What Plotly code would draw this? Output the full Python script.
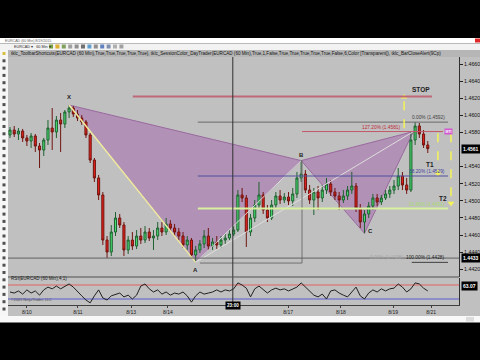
import plotly.graph_objects as go

W, H = 480, 360


def px(x):
    return x / W


def py(y):
    return 1 - y / H


# ---------------- data ----------------
bar_index = list(range(100))
open_ = [1.45770, 1.45828, 1.45781, 1.45816, 1.45735, 1.45699, 1.45758, 1.45641, 1.45594, 1.45711,
         1.45851, 1.45805, 1.45945, 1.45898, 1.46039, 1.46085, 1.46015, 1.45968, 1.45922, 1.45770,
         1.45477, 1.45267, 1.45068, 1.44541, 1.44401, 1.44635, 1.44799, 1.44717, 1.44425, 1.44541,
         1.44471, 1.44588, 1.44541, 1.44635, 1.44565, 1.44588, 1.44682, 1.44635, 1.44729, 1.44682,
         1.44635, 1.44588, 1.44483, 1.44541, 1.44366, 1.44425, 1.44495, 1.44588, 1.44471, 1.44518,
         1.44483, 1.44541, 1.44565, 1.44612, 1.44658, 1.45068, 1.45033, 1.44635, 1.44799, 1.44951,
         1.45068, 1.44892, 1.44799, 1.44951, 1.45056, 1.45009, 1.45044, 1.44998, 1.45080, 1.45267,
         1.45313, 1.45126, 1.45009, 1.45103, 1.45033, 1.45126, 1.45196, 1.45103, 1.45056, 1.45009,
         1.45056, 1.45126, 1.45173, 1.44916, 1.44752, 1.44846, 1.44939, 1.45033, 1.44986, 1.45033,
         1.45080, 1.45126, 1.45173, 1.45290, 1.45185, 1.45126, 1.45711, 1.45875, 1.45781, 1.45653]
high = [1.45863, 1.45875, 1.45851, 1.45840, 1.45770, 1.45793, 1.45781, 1.45676, 1.45735, 1.45945,
        1.46085, 1.45992, 1.46027, 1.46062, 1.46120, 1.46109, 1.46062, 1.46003, 1.45945, 1.45793,
        1.45501, 1.45302, 1.45103, 1.44588, 1.44717, 1.44869, 1.44846, 1.44752, 1.44588, 1.44635,
        1.44658, 1.44682, 1.44705, 1.44682, 1.44658, 1.44752, 1.44752, 1.44799, 1.44775, 1.44729,
        1.44682, 1.44635, 1.44588, 1.44565, 1.44471, 1.44541, 1.44658, 1.44682, 1.44565, 1.44588,
        1.44588, 1.44612, 1.44658, 1.44705, 1.45126, 1.45150, 1.45068, 1.44846, 1.45009, 1.45220,
        1.45103, 1.44951, 1.45009, 1.45103, 1.45126, 1.45091, 1.45103, 1.45150, 1.45337, 1.45470,
        1.45360, 1.45185, 1.45150, 1.45173, 1.45185, 1.45267, 1.45243, 1.45150, 1.45103, 1.45126,
        1.45173, 1.45337, 1.45208, 1.44963, 1.44892, 1.44986, 1.45080, 1.45080, 1.45068, 1.45126,
        1.45173, 1.45243, 1.45384, 1.45337, 1.45267, 1.45805, 1.45920, 1.45910, 1.45828, 1.45699]
low = [1.45735, 1.45746, 1.45711, 1.45688, 1.45641, 1.45618, 1.45571, 1.45384, 1.45524, 1.45653,
       1.45594, 1.45735, 1.45571, 1.45851, 1.45968, 1.45980, 1.45933, 1.45887, 1.45735, 1.45442,
       1.45220, 1.45009, 1.44483, 1.44331, 1.44354, 1.44588, 1.44682, 1.44354, 1.44378, 1.44425,
       1.44436, 1.44495, 1.44506, 1.44530, 1.44425, 1.44541, 1.44588, 1.44600, 1.44635, 1.44588,
       1.44541, 1.44448, 1.44425, 1.44331, 1.44280, 1.44390, 1.44448, 1.44425, 1.44425, 1.44436,
       1.44448, 1.44495, 1.44541, 1.44588, 1.44635, 1.44986, 1.44460, 1.44588, 1.44752, 1.44916,
       1.44846, 1.44752, 1.44775, 1.44916, 1.44963, 1.44974, 1.44951, 1.44939, 1.45033, 1.45220,
       1.45091, 1.44963, 1.44834, 1.44892, 1.44986, 1.45080, 1.45056, 1.45009, 1.44892, 1.44974,
       1.45009, 1.45080, 1.44869, 1.44682, 1.44620, 1.44799, 1.44892, 1.44939, 1.44951, 1.45009,
       1.45033, 1.45080, 1.45126, 1.45126, 1.45080, 1.45103, 1.45653, 1.45735, 1.45618, 1.45559]
close = [1.45828, 1.45781, 1.45816, 1.45735, 1.45699, 1.45758, 1.45641, 1.45594, 1.45711, 1.45851,
         1.45805, 1.45945, 1.45898, 1.46039, 1.46085, 1.46015, 1.45968, 1.45922, 1.45770, 1.45477,
         1.45267, 1.45068, 1.44541, 1.44401, 1.44635, 1.44799, 1.44717, 1.44425, 1.44541, 1.44471,
         1.44588, 1.44541, 1.44635, 1.44565, 1.44588, 1.44682, 1.44635, 1.44729, 1.44682, 1.44635,
         1.44588, 1.44483, 1.44541, 1.44366, 1.44425, 1.44495, 1.44588, 1.44471, 1.44518, 1.44483,
         1.44541, 1.44565, 1.44612, 1.44658, 1.45068, 1.45033, 1.44635, 1.44799, 1.44951, 1.45068,
         1.44892, 1.44799, 1.44951, 1.45056, 1.45009, 1.45044, 1.44998, 1.45080, 1.45267, 1.45313,
         1.45126, 1.45009, 1.45103, 1.45033, 1.45126, 1.45196, 1.45103, 1.45056, 1.45009, 1.45056,
         1.45126, 1.45173, 1.44916, 1.44752, 1.44846, 1.44939, 1.45033, 1.44986, 1.45033, 1.45080,
         1.45126, 1.45173, 1.45290, 1.45185, 1.45126, 1.45711, 1.45875, 1.45781, 1.45653, 1.45610]
rsi = [50, 47, 53, 44, 56, 47, 53, 41, 56, 64,
       59, 67, 59, 67, 73, 64, 50, 39, 27, 19,
       39, 56, 33, 27, 39, 44, 47, 36, 41, 30,
       41, 67, 73, 59, 50, 56, 44, 50, 41, 47,
       44, 50, 39, 21, 39, 50, 44, 47, 50, 56,
       50, 56, 53, 59, 76, 70, 61, 36, 59, 67,
       56, 47, 56, 61, 56, 59, 53, 59, 64, 76,
       64, 53, 41, 36, 44, 30, 53, 56, 47, 41,
       36, 50, 64, 39, 30, 47, 56, 50, 59, 53,
       59, 61, 73, 64, 50, 59, 76, 73, 61, 53]

# 1.4560 sits under the last-price box in the reference, so it is not labelled
price_ticks = [1.4420, 1.4440, 1.4460, 1.4480, 1.4500, 1.4520, 1.4540,
               1.4580, 1.4600, 1.4620, 1.4640, 1.4660]
price_labels = ["1.4420", "1.4440", "1.4460", "1.4480", "1.4500", "1.4520", "1.4540",
                "1.4580", "1.4600", "1.4620", "1.4640", "1.4660"]
date_ticks = [4.0, 16.1, 28.7, 37.4, 65.9, 78.4, 90.8, 99.8]
date_labels = ["8/10", "8/11", "8/13", "8/14", "8/17", "8/18", "8/19", "8/21"]

# harmonic pattern points X, A, B, C, D
pat_bar = [14, 44, 69, 84, 95.6]
pat_price = [1.4612, 1.4428, 1.4547, 1.4462, 1.4581]
pat_names = ["X", "A", "B", "C"]

# fibonacci levels
fib_names = ["0.00% (1.4592)", "38.20% (1.4529)", "61.80% (1.4491)", "100.00% (1.4428)"]
fib_prices = [1.4592, 1.4529, 1.4491, 1.4428]
ext_name = "127.20% (1.4581)"
ext_price = 1.4581
stop_price = 1.4622
t1_price = 1.4532
t2_price = 1.4497
arrow_start = 1.4579
up_arrow_from = 1.4585

cross_bar = 52.8
cross_price = 1.4433
last_price_text = "1.4561"
last_price = 1.4561
rsi_text = "63.07"
rsi_hi, rsi_lo = 70, 30

FONT = "Liberation Sans, Arial, sans-serif"

fig = go.Figure()

fig.add_trace(go.Candlestick(
    x=bar_index, open=open_, high=high, low=low, close=close,
    increasing=dict(line=dict(color="#1f6030", width=1), fillcolor="#46dc6e"),
    decreasing=dict(line=dict(color="#701510", width=1), fillcolor="#e4201a"),
    whiskerwidth=0, showlegend=False, hoverinfo="skip", xaxis="x", yaxis="y"))

fig.add_trace(go.Scatter(
    x=bar_index, y=rsi, mode="lines", line=dict(color="#202020", width=1),
    showlegend=False, hoverinfo="skip", xaxis="x", yaxis="y2"))

# arrow heads (yellow)
fig.add_trace(go.Scatter(
    x=[93.4, 101.4, 104.5], y=[stop_price - 0.00005, t1_price, t2_price],
    mode="markers",
    marker=dict(symbol=["triangle-up", "triangle-down", "triangle-down"], size=6,
                color="#f4f45a", line=dict(width=0)),
    showlegend=False, hoverinfo="skip", xaxis="x", yaxis="y"))

shapes = []
# chart grey background
shapes.append(dict(type="rect", xref="paper", yref="paper", x0=px(8), x1=1, y0=py(316), y1=py(50),
                   fillcolor="#c0c0c0", line=dict(width=0), layer="below"))
shapes.append(dict(type="rect", xref="paper", yref="paper", x0=px(8), x1=1, y0=py(57), y1=py(50),
                   fillcolor="#b6b6b6", line=dict(width=0), layer="below"))
# window chrome
shapes.append(dict(type="rect", xref="paper", yref="paper", x0=0, x1=1, y0=py(43.5), y1=py(38),
                   fillcolor="#ffffff", line=dict(width=0), layer="below"))
shapes.append(dict(type="rect", xref="paper", yref="paper", x0=0, x1=1, y0=py(50), y1=py(43.5),
                   fillcolor="#f2f2f2", line=dict(width=0), layer="below"))
shapes.append(dict(type="rect", xref="paper", yref="paper", x0=0, x1=px(8), y0=py(316), y1=py(50),
                   fillcolor="#f6f6f6", line=dict(width=0), layer="below"))
shapes.append(dict(type="rect", xref="paper", yref="paper", x0=0, x1=1, y0=py(322.5), y1=py(316),
                   fillcolor="#f8f8f8", line=dict(width=0), layer="below"))
shapes.append(dict(type="rect", xref="paper", yref="paper", x0=px(475), x1=1, y0=py(42.5), y1=py(38.5),
                   fillcolor="#e02828", line=dict(width=0), layer="below"))
shapes.append(dict(type="rect", xref="paper", yref="paper", x0=px(466), x1=px(474), y0=py(321.5), y1=py(317),
                   fillcolor="#dcdcdc", line=dict(width=0), layer="below"))
# left toolbar icons
for k in range(36):
    yy = 52 + k * 7.3
    col = "#d8c040" if k == 0 else "#505050"
    shapes.append(dict(type="rect", xref="paper", yref="paper", x0=px(2.5), x1=px(5.5),
                       y0=py(yy + 3), y1=py(yy), fillcolor=col, line=dict(width=0), layer="below"))
# top toolbar icons
tb_cols = ["#7aa040", "#e0b030", "#80a060", "#a0a0a0", "#909090", "#707070", "#60a0d0",
           "#909090", "#6080c0", "#8090b0", "#b0b0b0", "#a0a0a0"]
for k, c in enumerate(tb_cols):
    xx = 49 + k * 6.4
    shapes.append(dict(type="rect", xref="paper", yref="paper", x0=px(xx), x1=px(xx + 4),
                       y0=py(48.5), y1=py(44.5), fillcolor=c, line=dict(width=0), layer="below"))


# harmonic pattern triangles
def tri(i0, i1, i2):
    return "M {},{} L {},{} L {},{} Z".format(pat_bar[i0], pat_price[i0], pat_bar[i1], pat_price[i1],
                                              pat_bar[i2], pat_price[i2])


shapes.append(dict(type="path", xref="x", yref="y", path=tri(0, 1, 2),
                   fillcolor="rgba(155,75,165,0.40)", line=dict(color="#9a6aa0", width=1), layer="below"))
shapes.append(dict(type="path", xref="x", yref="y", path=tri(2, 3, 4),
                   fillcolor="rgba(155,75,165,0.40)", line=dict(color="#9a6aa0", width=1), layer="below"))
# XA leg (pale yellow)
shapes.append(dict(type="line", xref="x", yref="y", x0=pat_bar[0], y0=pat_price[0], x1=pat_bar[1],
                   y1=pat_price[1], line=dict(color="#f0eca0", width=1.5), layer="above"))
# A-B and A-D thin light lines
shapes.append(dict(type="line", xref="x", yref="y", x0=pat_bar[1], y0=pat_price[1], x1=pat_bar[2],
                   y1=pat_price[2], line=dict(color="#dedede", width=1), layer="above"))
shapes.append(dict(type="line", xref="x", yref="y", x0=pat_bar[1], y0=pat_price[1], x1=pat_bar[4],
                   y1=pat_price[4], line=dict(color="#dedede", width=1), layer="above"))
# box from A to B
shapes.append(dict(type="line", xref="x", yref="y", x0=69.2, y0=pat_price[2], x1=69.2, y1=1.44272,
                   line=dict(color="#707070", width=1), layer="above"))
shapes.append(dict(type="line", xref="x", yref="y", x0=45, y0=1.44272, x1=69.2, y1=1.44272,
                   line=dict(color="#707070", width=1), layer="above"))

# STOP line
shapes.append(dict(type="line", xref="x", yref="y", x0=29.1, x1=100, y0=stop_price, y1=stop_price,
                   line=dict(color="#c06878", width=2), layer="above"))
# fib lines
fib_cols = ["#6a6a6a", "#5050a0", "#d8f0a0", "#404040"]
fib_x0 = [44.5, 44.5, 44.5, 95.2]
fib_w = [1, 1, 2, 1]
for p, c, x0, w in zip(fib_prices, fib_cols, fib_x0, fib_w):
    shapes.append(dict(type="line", xref="x", yref="y", x0=x0, x1=103.8, y0=p, y1=p,
                       line=dict(color=c, width=w), layer="above"))
shapes.append(dict(type="line", xref="x", yref="y", x0=69.2, x1=102.6, y0=ext_price, y1=ext_price,
                   line=dict(color="#c05868", width=1), layer="above"))
# yellow dashed arrows
for xb, y0, y1 in [(93.4, up_arrow_from, stop_price - 0.0001), (101.4, arrow_start, t1_price + 0.0001),
                   (104.5, arrow_start, t2_price + 0.0001)]:
    shapes.append(dict(type="line", xref="x", yref="y", x0=xb, x1=xb, y0=y0, y1=y1,
                       line=dict(color="#f4f45a", width=1.5, dash="dash"), layer="above"))
# crosshair
shapes.append(dict(type="line", xref="x domain", yref="y", x0=0, x1=1, y0=cross_price, y1=cross_price,
                   line=dict(color="#606060", width=1), layer="above"))
shapes.append(dict(type="line", xref="x", yref="paper", x0=cross_bar, x1=cross_bar, y0=py(305), y1=py(57),
                   line=dict(color="#303030", width=1), layer="above"))
# panel separator
shapes.append(dict(type="line", xref="paper", yref="paper", x0=px(8), x1=px(459), y0=py(277), y1=py(277),
                   line=dict(color="#505050", width=1), layer="above"))
# RSI level lines
shapes.append(dict(type="line", xref="x domain", yref="y2", x0=0, x1=1, y0=rsi_hi, y1=rsi_hi,
                   line=dict(color="#e06060", width=1), layer="below"))
shapes.append(dict(type="line", xref="x domain", yref="y2", x0=0, x1=1, y0=rsi_lo, y1=rsi_lo,
                   line=dict(color="#5a5ad0", width=1), layer="below"))

ann = []
ann.append(dict(xref="paper", yref="paper", x=px(9), y=py(53.5), xanchor="left", yanchor="middle",
                text="tklc_ToolbarShortcuts(EURCAD (60 Min),True,True,True,True,True), "
                     "tklc_SessionColor_DayTrader(EURCAD (60 Min),True,1,False,True,True,True,True,True,"
                     "False,6,Color [Transparent]), tklc_BarCloseAlert(9Cp)",
                showarrow=False, font=dict(family=FONT, size=4.6, color="#151515")))
ann.append(dict(xref="paper", yref="paper", x=px(3), y=py(40.7), xanchor="left", yanchor="middle",
                text="EURCAD (60 Min) 8/19/2015", showarrow=False,
                font=dict(family=FONT, size=3.6, color="#606060")))
ann.append(dict(xref="paper", yref="paper", x=px(12), y=py(46.7), xanchor="left", yanchor="middle",
                text="EURCAD ▾   60 Min ▾", showarrow=False,
                font=dict(family=FONT, size=3.8, color="#303030")))
# pattern letters
letter_shift = [(0, 8), (0, -8), (0, 6), (6, 2)]
for name, b, p, (dx, dy) in zip(pat_names, pat_bar, pat_price, letter_shift):
    ann.append(dict(xref="x", yref="y", x=b, y=p, xshift=dx, yshift=dy, text="<b>" + name + "</b>",
                    showarrow=False, font=dict(family=FONT, size=6, color="#202020")))
# level labels
ann.append(dict(xref="x", yref="y", x=100, y=stop_price, xanchor="right", yanchor="bottom", yshift=1,
                text="<b>STOP</b>", showarrow=False, font=dict(family=FONT, size=6.5, color="#202020")))
ann.append(dict(xref="x", yref="y", x=99.5, y=t1_price, yshift=9, text="<b>T1</b>", showarrow=False,
                font=dict(family=FONT, size=6.5, color="#202020")))
ann.append(dict(xref="x", yref="y", x=102.5, y=t2_price, yshift=5, text="<b>T2</b>", showarrow=False,
                font=dict(family=FONT, size=6.5, color="#202020")))
fib_tcols = ["#404040", "#4040a0", "#a8dc70", "#202020"]
for name, p, c in zip(fib_names, fib_prices, fib_tcols):
    ann.append(dict(xref="x", yref="y", x=103.6, y=p, xanchor="right", yanchor="bottom", yshift=0,
                    text=name, showarrow=False, font=dict(family=FONT, size=4.8, color=c)))
ann.append(dict(xref="x", yref="y", x=93.5, y=1.4428, xanchor="right", yanchor="bottom",
                text="0.00% (1.4428)", showarrow=False, font=dict(family=FONT, size=4.8, color="#a4a4a4")))
ann.append(dict(xref="x", yref="y", x=93.2, y=ext_price, xanchor="right", yanchor="bottom",
                text=ext_name, showarrow=False, font=dict(family=FONT, size=4.8, color="#c02838")))
ann.append(dict(xref="x", yref="y", x=103.8, y=ext_price, text="<b>MTI</b>", showarrow=False,
                bgcolor="#d058d0", borderpad=0.5, font=dict(family=FONT, size=3.5, color="#ffffff")))
# axis boxes
for txt, p in [(last_price_text, last_price), ("1.4433", cross_price)]:
    ann.append(dict(xref="paper", yref="y", x=px(461), y=p, xanchor="left", text="<b>" + txt + "</b>",
                    showarrow=False, bgcolor="#000000", borderpad=1,
                    font=dict(family=FONT, size=5, color="#ffffff")))
ann.append(dict(xref="paper", yref="paper", x=px(461), y=py(291), xanchor="left", text="<b>" + rsi_text + "</b>",
                showarrow=False, bgcolor="#000000", borderpad=1,
                font=dict(family=FONT, size=5, color="#ffffff")))
ann.append(dict(xref="x", yref="paper", x=cross_bar, y=py(310), text="<b>23:00</b>", showarrow=False,
                bgcolor="#000000", borderpad=1, font=dict(family=FONT, size=4.6, color="#ffffff")))
ann.append(dict(xref="paper", yref="paper", x=px(9), y=py(283), xanchor="left",
                text="RSI(EURCAD (60 Min),4,1)", showarrow=False,
                font=dict(family=FONT, size=4.6, color="#202020")))
ann.append(dict(xref="paper", yref="paper", x=px(9), y=py(303.5), xanchor="left",
                text="©2005 NinjaTrader, LLC", showarrow=False,
                font=dict(family=FONT, size=3.8, color="#505050")))

fig.update_layout(
    width=W, height=H, margin=dict(l=0, r=0, t=0, b=0),
    paper_bgcolor="#000000", plot_bgcolor="rgba(0,0,0,0)",
    showlegend=False, hovermode=False,
    shapes=shapes, annotations=ann,
    font=dict(family=FONT, size=5, color="#000000"),
    xaxis=dict(domain=[px(8), px(459)], range=[-0.474, 106.4], anchor="y2",
               showgrid=False, zeroline=False, showline=True, linecolor="#404040", linewidth=1,
               tickvals=date_ticks, ticktext=date_labels, ticks="outside", ticklen=2,
               tickcolor="#404040", tickfont=dict(family=FONT, size=5, color="#202020"),
               rangeslider=dict(visible=False), fixedrange=True),
    yaxis=dict(domain=[py(277), py(57)], range=[1.441088, 1.466819], side="right", anchor="x",
               showgrid=False, zeroline=False, showline=True, linecolor="#303030", linewidth=1,
               tickvals=price_ticks, ticktext=price_labels, ticks="outside", ticklen=3,
               tickcolor="#202020", tickfont=dict(family=FONT, size=5.3, color="#101010"),
               fixedrange=True),
    yaxis2=dict(domain=[py(305), py(278)], range=[12.86, 90], side="right", anchor="x",
                showgrid=False, zeroline=False, showline=True, linecolor="#303030", linewidth=1,
                showticklabels=False, ticks="", fixedrange=True),
)

fig.write_html("out.html")
